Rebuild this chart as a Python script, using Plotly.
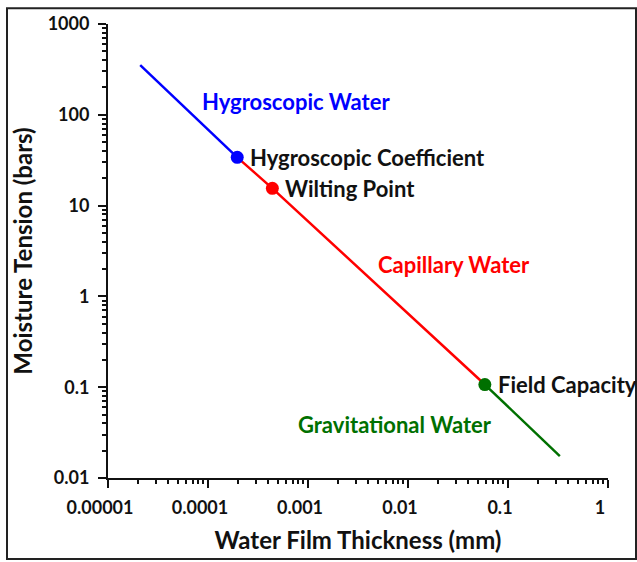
import plotly.graph_objects as go
import numpy as np

# ---- data ----
thickness_mm = [2.1e-5, 1.96e-4, 4.4e-4, 0.0587, 0.33]
tension_bars = [353, 34, 15.5, 0.107, 0.0174]
segment_names = ["Hygroscopic Water", "Capillary Water", "Gravitational Water"]
segment_ranges = [(0, 1), (1, 3), (3, 4)]
segment_colors = ["#0000ff", "#ff0000", "#007000"]
point_names = ["Hygroscopic Coefficient", "Wilting Point", "Field Capacity"]
point_index = [1, 2, 3]
point_colors = ["#0000ff", "#ff0000", "#007000"]
x_tickvals = [1e-5, 1e-4, 1e-3, 1e-2, 1e-1, 1]
x_ticktext = ["0.00001", "0.0001", "0.001", "0.01", "0.1", "1"]
y_tickvals = [0.01, 0.1, 1, 10, 100, 1000]
y_ticktext = ["0.01", "0.1", "1", "10", "100", "1000"]
# region label positions (log10 x, log10 y)
region_label_pos = [(-4.084, 2.146, "left"), (-1.54, 0.353, "center"), (-2.135, -1.408, "center")]

FONT = "Lato"

fig = go.Figure()
for name, (a, b), col in zip(segment_names, segment_ranges, segment_colors):
    fig.add_trace(go.Scatter(
        x=thickness_mm[a:b + 1], y=tension_bars[a:b + 1], mode="lines",
        line=dict(color=col, width=2.5), name=name, showlegend=False, hoverinfo="skip"))

for name, idx, col in zip(point_names, point_index, point_colors):
    fig.add_trace(go.Scatter(
        x=[thickness_mm[idx]], y=[tension_bars[idx]], mode="markers",
        marker=dict(color=col, size=13), name=name, showlegend=False))
    fig.add_annotation(x=np.log10(thickness_mm[idx]), y=np.log10(tension_bars[idx]),
                       text=name, showarrow=False, xanchor="left", yanchor="middle",
                       xshift=11, font=dict(family=FONT, size=22, color="#111111", weight="bold"))

for name, (lx, ly, anc), col in zip(segment_names, region_label_pos, segment_colors):
    fig.add_annotation(x=lx, y=ly, text=name, showarrow=False, xanchor=anc, yanchor="middle",
                       font=dict(family=FONT, size=22, color=col, weight="bold"))

axis_common = dict(
    type="log", showgrid=False, zeroline=False, showline=True, linecolor="#111111",
    linewidth=2, ticks="outside", ticklen=8, tickwidth=2, tickcolor="#111111",
    tickfont=dict(family=FONT, size=18, color="#111111", weight="bold"),
    minor=dict(ticks="outside", ticklen=4, tickwidth=1.5, tickcolor="#111111",
               dtick="D1", showgrid=False),
)

fig.update_xaxes(**axis_common, range=[-5, 0], tickvals=x_tickvals, ticktext=x_ticktext,
                 ticklabelshift=-8, ticklabelstandoff=4,
                 title=dict(text="Water Film Thickness (mm)", standoff=16,
                            font=dict(family=FONT, size=24, color="#111111", weight="bold")))
fig.update_yaxes(**axis_common, range=[-2, 3], tickvals=y_tickvals, ticktext=y_ticktext,
                 ticklabelstandoff=5,
                 title=dict(text="Moisture Tension (bars)", standoff=8,
                            font=dict(family=FONT, size=24, color="#111111", weight="bold")))

fig.add_shape(type="rect", xref="paper", yref="paper",
              x0=(7 - 108) / 500, x1=(636 - 108) / 500,
              y0=(478 - 560) / 460, y1=(478 - 2) / 460,
              line=dict(color="#222222", width=2), fillcolor="rgba(0,0,0,0)")

fig.update_layout(
    width=637, height=562,
    margin=dict(l=108, r=29, t=18, b=84),
    plot_bgcolor="white", paper_bgcolor="white",
    font=dict(family=FONT),
)

fig.write_html("out.html", config={"displayModeBar": False},
               post_script="document.body.style.margin='0';")
